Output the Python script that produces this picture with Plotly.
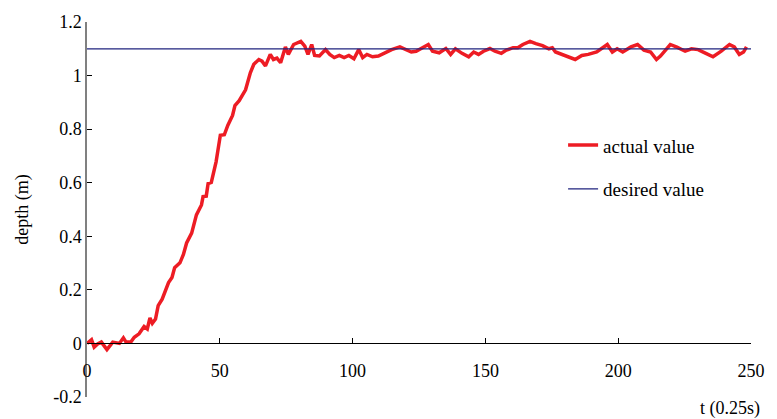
import plotly.graph_objects as go

# time samples (units of 0.25 s) and measured depth (m)
t_actual = [0, 1.7, 2.7, 4, 5.4, 7.5, 9.7, 12.2, 13.7, 14.7, 16.5, 17.8, 19.6, 21.5, 22.7, 23.7,
            24.6, 25.8, 26.8, 28.3, 30.7, 32, 33, 35, 36.3, 37.5, 39.4, 41.2, 43.1, 43.7, 44.9,
            45.6, 46.8, 48.6, 50.2, 51.7, 53, 54.8, 55.7, 57.3, 59.7, 61.5, 62.8, 64.7, 65.9,
            67.2, 69, 70.2, 71.5, 72.9, 74.7, 75.8, 77.8, 80.5, 82, 83.2, 84.6, 85.7, 87.5,
            89.8, 91.4, 93.1, 95, 96.8, 98.6, 100.5, 102.3, 103.8, 105.4, 107.5, 109.7, 112.2,
            114.7, 117.8, 120.2, 122.1, 123.9, 126.4, 128.5, 130.1, 132.6, 135.1, 136.9, 138.7,
            141.2, 143.7, 145.6, 147.4, 149.3, 151.7, 153.6, 156, 157.9, 160.4, 162.2, 164.1,
            166.8, 169, 171.5, 173.9, 175.2, 176.4, 178.9, 181.4, 183.8, 186.3, 188.7, 191.9,
            194.3, 195.9, 197.8, 199.6, 201.7, 204.8, 207.3, 209.7, 212.2, 214.4, 215.9, 217.8,
            219.6, 222.1, 225.2, 227.6, 230.1, 232.6, 235.7, 238.8, 241.9, 243.7, 245.6, 247.2,
            248.3]
depth_actual = [0.0, 0.014, -0.014, -0.002, 0.005, -0.023, 0.005, 0.0, 0.021, 0.005, 0.005, 0.023,
                0.036, 0.063, 0.054, 0.095, 0.075, 0.091, 0.141, 0.165, 0.227, 0.246, 0.283, 0.301,
                0.332, 0.375, 0.412, 0.48, 0.517, 0.548, 0.55, 0.597, 0.601, 0.678, 0.777, 0.779,
                0.814, 0.851, 0.888, 0.906, 0.947, 1.01, 1.042, 1.06, 1.054, 1.036, 1.079, 1.06,
                1.065, 1.048, 1.107, 1.079, 1.116, 1.128, 1.11, 1.079, 1.116, 1.075, 1.073, 1.097,
                1.079, 1.067, 1.075, 1.067, 1.075, 1.063, 1.097, 1.067, 1.079, 1.07, 1.073, 1.085,
                1.097, 1.107, 1.095, 1.088, 1.091, 1.104, 1.116, 1.091, 1.085, 1.101, 1.079, 1.1,
                1.083, 1.07, 1.088, 1.079, 1.091, 1.101, 1.091, 1.083, 1.095, 1.104, 1.104, 1.116,
                1.128, 1.119, 1.112, 1.1, 1.104, 1.088, 1.079, 1.07, 1.06, 1.075, 1.079, 1.088,
                1.104, 1.116, 1.088, 1.1, 1.088, 1.107, 1.116, 1.095, 1.088, 1.06, 1.073, 1.095,
                1.116, 1.106, 1.091, 1.1, 1.097, 1.085, 1.07, 1.091, 1.116, 1.107, 1.079, 1.088,
                1.107]

t_desired = [0, 250]
depth_desired = [1.1, 1.1]

x_ticks = [0, 50, 100, 150, 200, 250]
y_ticks = [-0.2, 0, 0.2, 0.4, 0.6, 0.8, 1.0, 1.2]
y_tick_text = ["-0.2", "0", "0.2", "0.4", "0.6", "0.8", "1", "1.2"]

FONT = "Liberation Serif"

fig = go.Figure()
fig.add_trace(go.Scatter(x=t_actual, y=depth_actual, mode="lines", name="actual value",
                         legendgroup="a",
                         line=dict(color="#ED1C24", width=3.5)))
fig.add_trace(go.Scatter(x=t_desired, y=depth_desired, mode="lines", name="desired value",
                         legendgroup="b",
                         line=dict(color="#1F237E", width=1.2)))

fig.update_layout(
    width=777, height=419,
    margin=dict(l=87, r=15, t=19, b=22),
    paper_bgcolor="white", plot_bgcolor="white",
    font=dict(family=FONT, size=18, color="black"),
    showlegend=True,
    legend=dict(x=0.717, y=0.722, xanchor="left", yanchor="top",
                bgcolor="rgba(0,0,0,0)", tracegroupgap=16,
                font=dict(family=FONT, size=19)),
    xaxis=dict(range=[0, 250], tickvals=x_ticks, showgrid=False, zeroline=False,
               showline=True, linecolor="black", linewidth=1,
               ticks="inside", ticklen=5, tickcolor="black",
               anchor="free", position=0.2 / 1.4, ticklabelstandoff=11,
               tickfont=dict(family=FONT, size=18)),
    yaxis=dict(range=[-0.2, 1.2], tickvals=y_ticks, ticktext=y_tick_text,
               showgrid=False, zeroline=False,
               showline=True, linecolor="#808080", linewidth=1.5,
               ticks="inside", ticklen=5, tickcolor="black",
               tickfont=dict(family=FONT, size=18),
               title=dict(text="depth (m)", font=dict(family=FONT, size=18), standoff=20)),
    annotations=[dict(text="t (0.25s)", xref="paper", yref="paper", x=1.017, y=-0.03,
                      xanchor="right", yanchor="middle", showarrow=False,
                      font=dict(family=FONT, size=18))],
)

fig.write_html("out.html")
